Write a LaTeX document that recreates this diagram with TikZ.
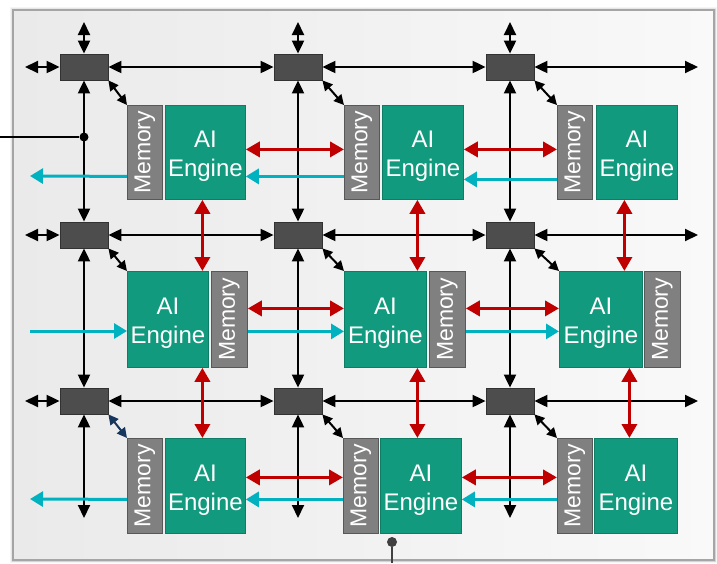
\documentclass[tikz,border=0pt]{standalone}
\usepackage{fontspec}
\setmainfont{Liberation Sans}
\usetikzlibrary{arrows.meta}

\definecolor{enggreen}{RGB}{18,154,126}
\definecolor{engedge}{RGB}{14,125,102}
\definecolor{memgray}{RGB}{128,128,128}
\definecolor{memedge}{RGB}{88,88,88}
\definecolor{swfill}{RGB}{77,77,77}
\definecolor{swedge}{RGB}{50,50,50}
\definecolor{linkred}{RGB}{192,0,0}
\definecolor{streamcyan}{RGB}{0,178,192}
\definecolor{navy}{RGB}{23,54,93}
\definecolor{bgleft}{RGB}{234,234,234}
\definecolor{bgright}{RGB}{249,249,249}
\definecolor{frameline}{RGB}{165,165,165}
\definecolor{portgray}{RGB}{64,64,64}

\begin{document}
\begin{tikzpicture}[x=1pt,y=-1pt,
  engine/.style={draw=engedge, line width=0.8pt, fill=enggreen, inner sep=0pt,
    anchor=north west, minimum width=81pt},
  memory/.style={draw=memedge, line width=0.8pt, fill=memgray, inner sep=0pt,
    anchor=north west, minimum width=35pt},
  engtext/.style={text=white, align=center, yshift=-4pt,
    font=\fontsize{24}{29}\selectfont},
  memtext/.style={text=white, rotate=90, font=\fontsize{23}{27}\selectfont},
  switchbox/.style={draw=swedge, line width=0.8pt, fill=swfill,
    minimum width=48pt, minimum height=26pt, inner sep=0pt},
  blk/.style={line width=2pt, black, {Triangle[length=13pt,width=12pt]}-{Triangle[length=13pt,width=12pt]}},
  blkdiag/.style={line width=2pt, black, {Triangle[length=10pt,width=10pt]}-{Triangle[length=10pt,width=10pt]}},
  redlink/.style={line width=3.5pt, linkred, {Triangle[length=14pt,width=15pt]}-{Triangle[length=14pt,width=15pt]}},
  stream/.style={line width=3pt, streamcyan, -{Triangle[length=13pt,width=15pt]}},
  port/.style={circle, fill=#1, inner sep=0pt, minimum size=10pt},
]
\useasboundingbox (0,0) rectangle (717,563);

% soft shadow and frame
\foreach \s/\o in {6/0.04,4.5/0.06,3/0.08,1.5/0.10}
  \draw[line width=\s pt, black, opacity=\o] (13,10) rectangle (714,560);
\fill[left color=bgleft, right color=bgright] (13,10) rectangle (714,560);
\draw[frameline, line width=2.5pt] (13,10) rectangle (714,560);

% stream switches
\node[switchbox] (s11) at (84,67) {};
\node[switchbox] (s12) at (298,67) {};
\node[switchbox] (s13) at (510,67) {};
\node[switchbox] (s21) at (84,235) {};
\node[switchbox] (s22) at (298,235) {};
\node[switchbox] (s23) at (510,235) {};
\node[switchbox] (s31) at (84,401) {};
\node[switchbox] (s32) at (298,401) {};
\node[switchbox] (s33) at (510,401) {};

% row 1 tiles (memory on the left)
\node[memory, minimum height=94pt, label={[memtext]center:Memory}] (m11) at (127,105) {};
\node[engine, minimum height=94pt, minimum width=80pt, label={[engtext]center:{AI\\Engine}}] (e11) at (165,105) {};
\node[memory, minimum height=94pt, label={[memtext]center:Memory}] (m12) at (344,105) {};
\node[engine, minimum height=94pt, label={[engtext]center:{AI\\Engine}}] (e12) at (382,105) {};
\node[memory, minimum height=94pt, label={[memtext]center:Memory}] (m13) at (557,105) {};
\node[engine, minimum height=94pt, label={[engtext]center:{AI\\Engine}}] (e13) at (596,105) {};

% row 2 tiles (memory on the right)
\node[engine, minimum height=96pt, label={[engtext]center:{AI\\Engine}}] (e21) at (127,271) {};
\node[memory, minimum height=96pt, minimum width=36pt, label={[memtext]center:Memory}] (m21) at (211,271) {};
\node[engine, minimum height=96pt, minimum width=82pt, label={[engtext]center:{AI\\Engine}}] (e22) at (344,271) {};
\node[memory, minimum height=96pt, minimum width=36pt, label={[memtext]center:Memory}] (m22) at (429,271) {};
\node[engine, minimum height=96pt, minimum width=83pt, label={[engtext]center:{AI\\Engine}}] (e23) at (559,271) {};
\node[memory, minimum height=96pt, minimum width=36pt, label={[memtext]center:Memory}] (m23) at (644,271) {};

% row 3 tiles (memory on the left)
\node[memory, minimum height=95pt, label={[memtext]center:Memory}] (m31) at (127,438) {};
\node[engine, minimum height=95pt, minimum width=80pt, label={[engtext]center:{AI\\Engine}}] (e31) at (165,438) {};
\node[memory, minimum height=95pt, label={[memtext]center:Memory}] (m32) at (343,438) {};
\node[engine, minimum height=95pt, label={[engtext]center:{AI\\Engine}}] (e32) at (380,438) {};
\node[memory, minimum height=95pt, label={[memtext]center:Memory}] (m33) at (557,438) {};
\node[engine, minimum height=95pt, minimum width=83pt, label={[engtext]center:{AI\\Engine}}] (e33) at (594,438) {};

% free ends of the switch network
\coordinate (lt1) at (25,67);  \coordinate (rt1) at (698,67);
\coordinate (lt2) at (25,235); \coordinate (rt2) at (698,235);
\coordinate (lt3) at (25,401); \coordinate (rt3) at (698,401);
\coordinate (tp1) at (84,22);  \coordinate (bt1) at (84,518);
\coordinate (tp2) at (298,22); \coordinate (bt2) at (298,518);
\coordinate (tp3) at (510,22); \coordinate (bt3) at (510,518);

% switch network: rows
\foreach \r in {1,2,3}{
  \draw[blk] (lt\r) -- (s\r1.west);
  \draw[blk] (s\r1.east) -- (s\r2.west);
  \draw[blk] (s\r2.east) -- (s\r3.west);
  \draw[blk] (s\r3.east) -- (rt\r);
}
% switch network: columns
\foreach \c in {1,2,3}{
  \draw[blk] (tp\c) -- (s1\c.north);
  \draw[blk] (s1\c.south) -- (s2\c.north);
  \draw[blk] (s2\c.south) -- (s3\c.north);
  \draw[blk] (s3\c.south) -- (bt\c);
}

% switch to tile links
\draw[blkdiag] (s11.south east) -- (m11.north west);
\draw[blkdiag] (s12.south east) -- (m12.north west);
\draw[blkdiag] (s13.south east) -- (m13.north west);
\draw[blkdiag] (s21.south east) -- (e21.north west);
\draw[blkdiag] (s22.south east) -- (e22.north west);
\draw[blkdiag] (s23.south east) -- (e23.north west);
\draw[blkdiag, navy] (s31.south east) -- (m31.north west);
\draw[blkdiag] (s32.south east) -- (m32.north west);
\draw[blkdiag] (s33.south east) -- (m33.north west);

% external input tap and bottom port
\coordinate (inl) at (0,137);
\node[port=black, minimum size=9pt] (tap) at (84,137) {};
\draw[line width=1.6pt] (inl) -- (tap);
\node[port=portgray] (bport) at (392,542) {};
\coordinate (bout) at (392,563);
\draw[line width=1.8pt, portgray] (bport) -- (bout);

% horizontal neighbour memory links
\draw[redlink] ([yshift=3pt]e11.east) -- ([yshift=3pt]e11.east -| m12.west);
\draw[redlink] ([yshift=3pt]e12.east) -- ([yshift=3pt]e12.east -| m13.west);
\draw[redlink] ([yshift=11pt]m21.east) -- ([yshift=11pt]m21.east -| e22.west);
\draw[redlink] ([yshift=11pt]m22.east) -- ([yshift=11pt]m22.east -| e23.west);
\draw[redlink] ([yshift=8.5pt]e31.east) -- ([yshift=8.5pt]e31.east -| m32.west);
\draw[redlink] ([yshift=8.5pt]e32.east) -- ([yshift=8.5pt]e32.east -| m33.west);

% vertical neighbour memory links
\draw[redlink] ([xshift=34.5pt]e21.north |- e11.south) -- ([xshift=34.5pt]e21.north);
\draw[redlink] ([xshift=32pt]e22.north |- e12.south) -- ([xshift=32pt]e22.north);
\draw[redlink] ([xshift=23.5pt]e23.north |- e13.south) -- ([xshift=23.5pt]e23.north);
\draw[redlink] ([xshift=34.5pt]e21.south) -- ([xshift=34.5pt]e21.south |- e31.north);
\draw[redlink] ([xshift=32pt]e22.south) -- ([xshift=32pt]e22.south |- e32.north);
\draw[redlink] ([xshift=28.5pt]e23.south) -- ([xshift=28.5pt]e23.south |- e33.north);

% cascade streams
\coordinate (cs1) at (30,176);
\coordinate (cs2) at (30,331);
\coordinate (cs3) at (30,499);
\draw[stream] ([yshift=-24pt]m11.west) -- (cs1);
\draw[stream] ([yshift=-24pt]m12.west) -- ([yshift=-24pt]m12.west -| e11.east);
\draw[stream] ([yshift=-27pt]m13.west) -- ([yshift=-27pt]m13.west -| e12.east);
\draw[stream] (cs2) -- (cs2 -| e21.west);
\draw[stream] ([yshift=-12pt]m21.east) -- ([yshift=-12pt]m21.east -| e22.west);
\draw[stream] ([yshift=-12pt]m22.east) -- ([yshift=-12pt]m22.east -| e23.west);
\draw[stream] ([yshift=-13.5pt]m31.west) -- (cs3);
\draw[stream] ([yshift=-13.5pt]m32.west) -- ([yshift=-13.5pt]m32.west -| e31.east);
\draw[stream] ([yshift=-13.5pt]m33.west) -- ([yshift=-13.5pt]m33.west -| e32.east);
\end{tikzpicture}
\end{document}
